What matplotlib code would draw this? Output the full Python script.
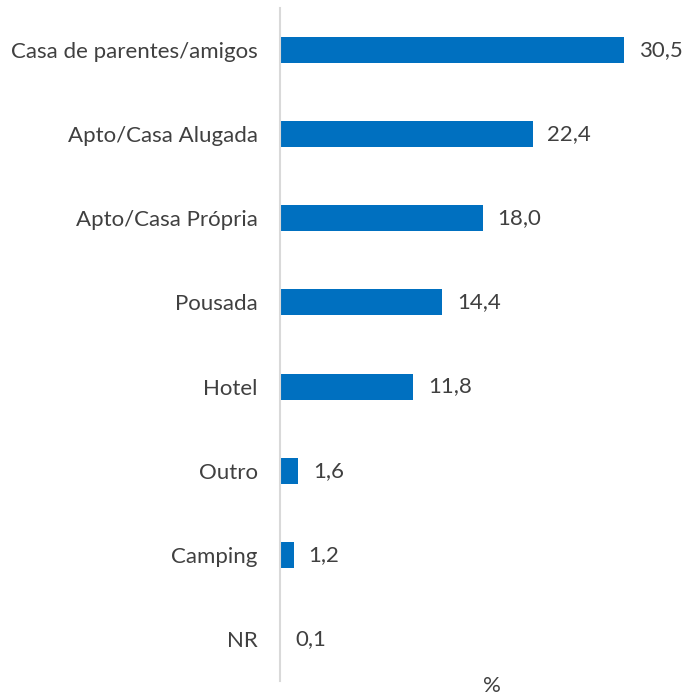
import matplotlib.pyplot as plt

categories = ['Casa de parentes/amigos', 'Apto/Casa Alugada', 'Apto/Casa Própria',
              'Pousada', 'Hotel', 'Outro', 'Camping', 'NR']
values = [30.5, 22.4, 18.0, 14.4, 11.8, 1.6, 1.2, 0.1]

plt.rcParams['font.family'] = ['Lato', 'DejaVu Sans']

fig = plt.figure(figsize=(6.86, 6.97), dpi=100)
ax = fig.add_axes([280 / 686, 16 / 697, 1 - 280 / 686, 673 / 697])

pos = list(range(len(categories)))
ax.barh(pos, values, height=0.31, color='#0070C0')

for y, v in zip(pos, values):
    ax.text(v + 1.3, y, f'{v:.1f}'.replace('.', ','), va='center', ha='left',
            fontsize=16, color='#404040')

ax.set_yticks(pos)
ax.set_yticklabels(categories, fontsize=16, color='#404040')
ax.tick_params(axis='y', length=0, pad=16)
ax.set_xticks([])
ax.set_xlim(0, 36.0)
ax.set_ylim(7.5, -0.5)

for s in ['top', 'right', 'bottom']:
    ax.spines[s].set_visible(False)
ax.spines['left'].set_color('#D9D9D9')
ax.spines['left'].set_linewidth(1.5)

fig.text(492 / 686, 1 - 686 / 697, '%', ha='center', va='center', fontsize=16, color='#404040')

fig.savefig('out.png', dpi=100)
